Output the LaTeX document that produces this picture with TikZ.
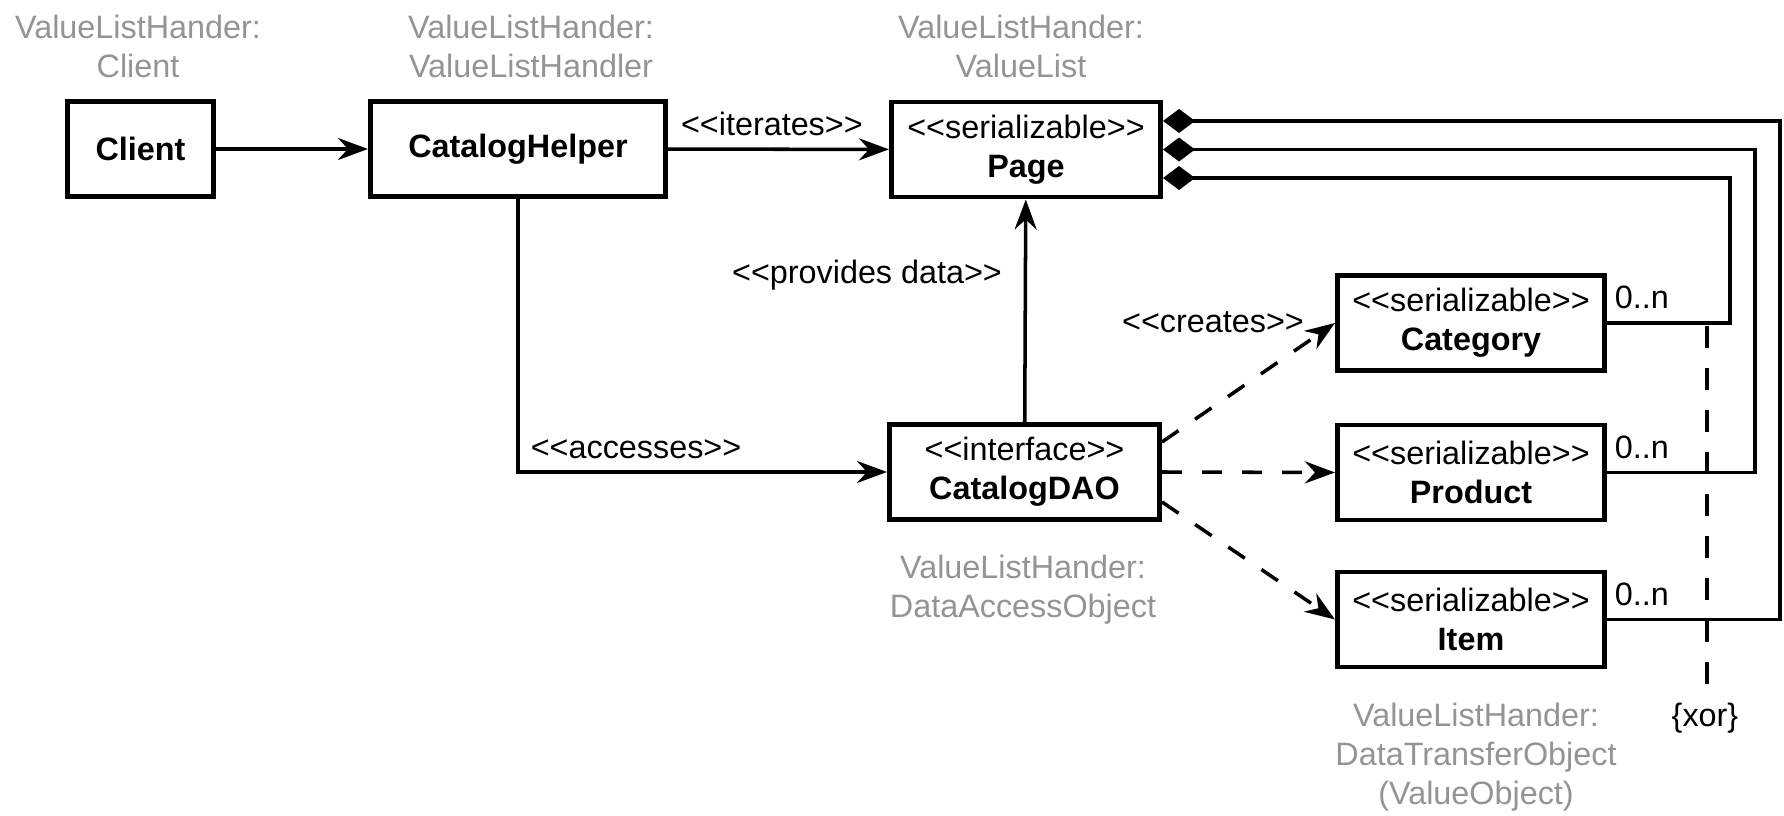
\documentclass[tikz,border=0pt]{standalone}
\usepackage{fontspec}
\setmainfont{Liberation Sans}[Ligatures=TeXOff]
\usetikzlibrary{arrows.meta, positioning}

\begin{document}
\begin{tikzpicture}[x=0.01cm, y=-0.01cm,
    every node/.style={font=\fontsize{9.2}{11.1}\selectfont},
    classbox/.style={draw, line width=1.4pt, rectangle, inner sep=0pt, align=center, minimum width=2.67cm, minimum height=0.95cm},
    role/.style={text=black!42, align=center},
    link/.style={line width=1pt, -{Stealth[length=0.3cm, width=0.22cm, inset=0.1cm]}},
    creates/.style={link, dash pattern=on 0.2cm off 0.2cm},
    comp/.style={line width=1pt, {Diamond[length=0.32cm, width=0.24cm]}-},
    mult/.style={anchor=south west, inner sep=0.06cm, yshift=0.06cm}
]
    \useasboundingbox (0,0) rectangle (1784,816);

    % Client
    \node[classbox, minimum width=1.46cm] (client) at (140.5,149) {\textbf{Client}};
    \node[role] (clientrole) at (138,46) {ValueListHander:\\Client};

    % Value list handler
    \node[classbox, minimum width=2.95cm] (helper) at (518,149) {\textbf{CatalogHelper}};
    \node[role] (helperrole) at (531,46) {ValueListHander:\\ValueListHandler};

    % Value list
    \node[classbox, minimum width=2.69cm] (page) at (1026,149.5) {<<serializable>>\\\textbf{Page}};
    \node[role] (pagerole) at (1021,46) {ValueListHander:\\ValueList};

    % Data access object
    \node[classbox, minimum width=2.70cm] (dao) at (1024.5,472) {<<interface>>\\\textbf{CatalogDAO}};
    \node[role] (daorole) at (1023,590) {ValueListHander:\\DataAccessObject};

    % Transfer objects
    \node[classbox] (category) at (1471,323) {<<serializable>>\\\textbf{Category}};
    \node[classbox] (product) at (1471,472.5) {<<serializable>>\\\textbf{Product}};
    \node[classbox] (item) at (1471,619.5) {<<serializable>>\\\textbf{Item}};
    \node[role] (itemrole) at (1476,757) {ValueListHander:\\DataTransferObject\\(ValueObject)};

    % Rails for the compositions
    \coordinate (railA) at (1780,0);
    \coordinate (railB) at (1755,0);
    \coordinate (railC) at (1730,0);
    \coordinate (xortop) at (1707,326);
    \node (xor) at (1705,718) {\{xor\}};

    % Arrows
    \draw[link] (client) -- (helper);
    \draw[link] (helper) -- node[above, pos=0.47] {<<iterates>>} (page);
    \draw[link] (helper) |- node[above, pos=0.66] {<<accesses>>} (dao);
    \draw[link] (dao) -- node[left=0.1cm, pos=0.66] {<<provides data>>} (page);
    \draw[creates] ([yshift=0.3cm]dao.east) -- node[anchor=east, pos=0.95, xshift=-0.09cm, yshift=0.07cm] {<<creates>>} (category.west);
    \draw[creates] (dao.east) -- (product.west);
    \draw[creates] ([yshift=-0.3cm]dao.east) -- (item.west);

    % Compositions
    \draw[comp] ([yshift=0.285cm]page.east) -| (railA |- item.east) -- node[mult, pos=1] {0..n} (item.east);
    \draw[comp] (page.east) -| (railB |- product.east) -- node[mult, pos=1] {0..n} (product.east);
    \draw[comp] ([yshift=-0.285cm]page.east) -| (railC |- category.east) -- node[mult, pos=1] {0..n} (category.east);
    \draw[line width=1pt, dash pattern=on 0.22cm off 0.2cm] (xortop) -- (xortop |- xor.north);

\end{tikzpicture}
\end{document}
